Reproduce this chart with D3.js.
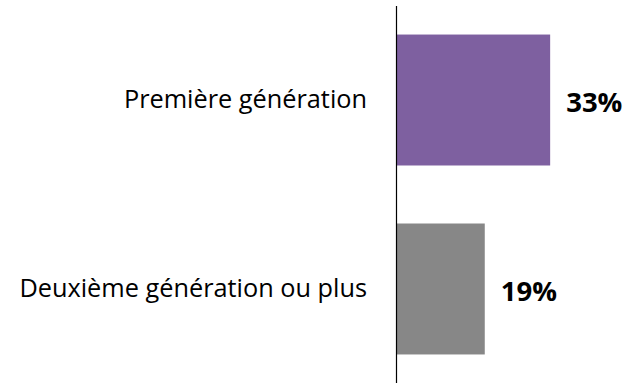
<!DOCTYPE html>
<html>
<head>
<meta charset="utf-8">
<script src="https://cdn.jsdelivr.net/npm/d3@7"></script>
<style>
  html, body { margin: 0; padding: 0; background: #ffffff; }
  svg { display: block; }
</style>
</head>
<body>
<svg id="chart" width="625" height="383"></svg>
<script>
// Share of respondents by immigrant generation (%)
const categories = ["Première génération", "Deuxième génération ou plus"];
const values = [33, 19];
const colors = ["#7E60A0", "#878787"];

const svg = d3.select("#chart");
const axisX = 396;

const x = d3.scaleLinear().domain([0, 35]).range([axisX, axisX + 163.5]);
const y = d3.scaleBand()
  .domain(categories)
  .range([6, 383])
  .paddingInner(0.307)
  .paddingOuter(0.151);

const font = "'Open Sans', 'Noto Sans', sans-serif";

// bars
svg.selectAll("rect.bar")
  .data(categories)
  .join("rect")
  .attr("class", "bar")
  .attr("x", x(0))
  .attr("y", d => y(d))
  .attr("width", (d, i) => x(values[i]) - x(0))
  .attr("height", y.bandwidth())
  .attr("fill", (d, i) => colors[i]);

// vertical category axis (line only, labels drawn to the left)
const axis = d3.axisLeft(y).tickSize(0).tickPadding(29);
const gAxis = svg.append("g")
  .attr("transform", `translate(${axisX},0)`)
  .call(axis);
gAxis.select(".domain")
  .attr("d", `M0.5,6V383`)
  .attr("stroke", "#000")
  .attr("stroke-width", 1.2);
gAxis.selectAll("text")
  .attr("font-family", font)
  .attr("font-size", 25.3)
  .attr("fill", "#000")
  .attr("dy", "0.31em");

// value labels
svg.selectAll("text.value")
  .data(categories)
  .join("text")
  .attr("class", "value")
  .attr("x", (d, i) => x(values[i]) + 16)
  .attr("y", d => y(d) + y.bandwidth() / 2)
  .attr("dy", "0.43em")
  .attr("font-family", font)
  .attr("font-weight", "bold")
  .attr("font-size", 27.5)
  .attr("fill", "#000")
  .text((d, i) => values[i] + "%");
</script>
</body>
</html>
